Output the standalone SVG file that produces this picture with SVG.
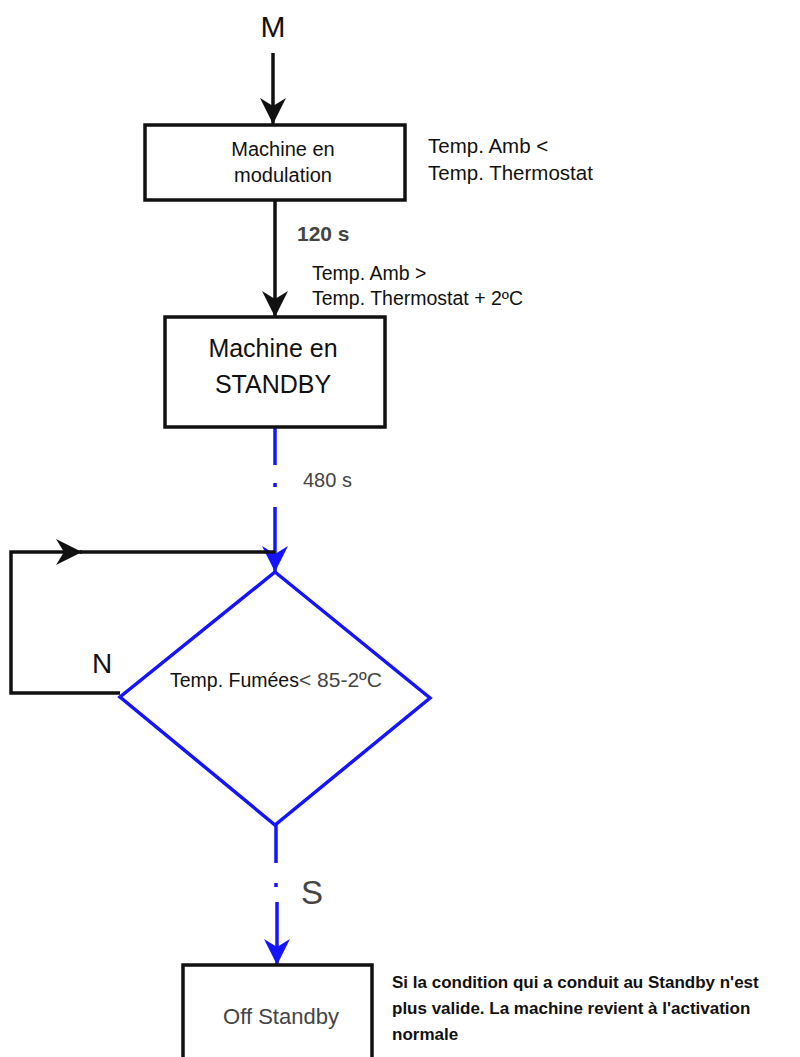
<svg xmlns="http://www.w3.org/2000/svg" width="800" height="1057" viewBox="0 0 800 1057">
<defs>
<style>
.box{fill:#fff;stroke:#111;stroke-width:3.5}
.dia{fill:#fff;stroke:#1414ff;stroke-width:3.5}
.blk{fill:none;stroke:#111;stroke-width:3.5}
.blu{fill:none;stroke:#1414ff;stroke-width:3.5}
.t{font-family:"Liberation Sans",Arial,sans-serif;fill:#111}
.g{fill:#444}
</style>
<marker id="ab" viewBox="0 0 26 26" refX="26" refY="13" markerWidth="26" markerHeight="26" markerUnits="userSpaceOnUse" orient="auto"><path d="M0,0 L26,13 L0,26 L8,13 Z" fill="#111"/></marker>
<marker id="au" viewBox="0 0 26 26" refX="26" refY="13" markerWidth="26" markerHeight="26" markerUnits="userSpaceOnUse" orient="auto"><path d="M0,0 L26,13 L0,26 L8,13 Z" fill="#1414ff"/></marker>
</defs>
<rect width="800" height="1057" fill="#fff"/>
<g id="connectors">
<line class="blk" x1="273" y1="53" x2="273" y2="124" marker-end="url(#ab)"/>
<line class="blk" x1="275" y1="200" x2="275" y2="317" marker-end="url(#ab)"/>
<line class="blu" x1="275" y1="428" x2="275" y2="465"/>
<line class="blu" x1="275" y1="483" x2="275" y2="487"/>
<line class="blu" x1="275" y1="507" x2="275" y2="572" marker-end="url(#au)"/>
<path class="blk" d="M120,693 L11,693 L11,552 L82,552" marker-end="url(#ab)"/>
<line class="blk" x1="80" y1="552" x2="275" y2="552"/>
<line class="blu" x1="276" y1="825" x2="276" y2="863"/>
<line class="blu" x1="276" y1="883" x2="276" y2="887"/>
<line class="blu" x1="277" y1="902" x2="277" y2="965" marker-end="url(#au)"/>
</g>
<g id="label-M"><text class="t" x="273" y="37" font-size="30" text-anchor="middle">M</text></g>
<g id="node-modulation">
<rect class="box" x="145" y="125" width="260" height="75"/>
<text class="t" x="283" y="156" font-size="20" text-anchor="middle">Machine en</text>
<text class="t" x="283" y="182" font-size="20" text-anchor="middle">modulation</text>
</g>
<g id="cond-1">
<text class="t" x="428" y="153" font-size="20.5">Temp. Amb &lt;</text>
<text class="t" x="428" y="180" font-size="20.5">Temp. Thermostat</text>
</g>
<g id="label-120"><text class="t g" x="297" y="241" font-size="21" font-weight="bold">120 s</text></g>
<g id="cond-2">
<text class="t" x="312" y="280" font-size="19.5">Temp. Amb &gt;</text>
<text class="t" x="312" y="305" font-size="19.5">Temp. Thermostat + 2ºC</text>
</g>
<g id="node-standby">
<rect class="box" x="165" y="317" width="220" height="110"/>
<text class="t" x="273" y="357" font-size="25" text-anchor="middle">Machine en</text>
<text class="t" x="273" y="393" font-size="25" text-anchor="middle">STANDBY</text>
</g>
<g id="label-480"><text class="t g" x="303" y="487" font-size="20">480 s</text></g>
<g id="node-decision">
<polygon class="dia" points="275,572 430,698 275,825 120,697"/>
<text class="t" x="170" y="687" font-size="19.5">Temp. Fumées<tspan class="g" font-size="21">&lt; 85-2ºC</tspan></text>
</g>
<g id="label-N"><text class="t" x="92" y="673" font-size="28">N</text></g>
<g id="label-S"><text class="t g" x="301" y="904" font-size="33">S</text></g>
<g id="node-off">
<rect class="box" x="183" y="965" width="189" height="110"/>
<text class="t g" x="281" y="1024" font-size="22" text-anchor="middle">Off Standby</text>
</g>
<g id="note">
<text class="t" x="392" y="988" font-size="17" font-weight="bold">Si la condition qui a conduit au Standby n'est</text>
<text class="t" x="392" y="1014" font-size="17" font-weight="bold">plus valide. La machine revient à l'activation</text>
<text class="t" x="392" y="1040" font-size="17" font-weight="bold">normale</text>
</g>
</svg>
